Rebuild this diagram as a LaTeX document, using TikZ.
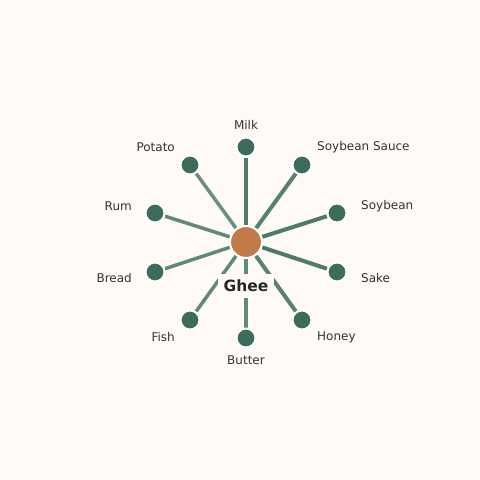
\documentclass[tikz,border=0pt]{standalone}
\usepackage{fontspec}
\setmainfont{DejaVu Sans}
\pgfdeclarelayer{bg}
\pgfdeclarelayer{edges}
\pgfsetlayers{bg,edges,main}
\definecolor{bgc}{HTML}{FFFAF6}
\definecolor{nodec}{HTML}{3D6B5C}
\definecolor{hubc}{HTML}{C17A48}
\definecolor{txtc}{HTML}{333333}
\definecolor{eA}{HTML}{4E7A6B}
\definecolor{eB}{HTML}{56826F}
\definecolor{eC}{HTML}{5F8A7A}
\definecolor{eD}{HTML}{6A9080}
\tikzset{
  leaf/.style={circle, fill=nodec, draw=white, line width=2pt, minimum size=19pt, inner sep=0pt},
  hub/.style={circle, fill=hubc, draw=white, line width=2pt, minimum size=32pt, inner sep=0pt},
  lbl/.style={text=txtc, font=\fontsize{12}{14}\selectfont, inner sep=0pt},
  hublbl/.style={fill=bgc, text=black!85, font=\fontsize{15.5}{18}\selectfont\bfseries, minimum width=56pt, minimum height=24pt, inner sep=0pt}
}
\begin{document}
\begin{tikzpicture}[x=1pt,y=-1pt]
\begin{pgfonlayer}{bg}
\fill[bgc] (0,0) rectangle (480,480);
\end{pgfonlayer}
\useasboundingbox (0,0) rectangle (480,480);
\node[hub] (c) at (246,242) {};
\node[leaf] (milk) at (246,147) {};
\node[leaf] (ssauce) at (302,165) {};
\node[leaf] (soy) at (337,213) {};
\node[leaf] (sake) at (337,272) {};
\node[leaf] (honey) at (302,320) {};
\node[leaf] (butter) at (246,338) {};
\node[leaf] (fish) at (190,320) {};
\node[leaf] (bread) at (155,272) {};
\node[leaf] (rum) at (155,213) {};
\node[leaf] (potato) at (190,165) {};
\begin{pgfonlayer}{edges}
\draw[eA, line width=4.5pt] (c) -- (milk);
\draw[eB, line width=4pt] (c) -- (ssauce);
\draw[eA, line width=4pt] (c) -- (soy);
\draw[eA, line width=4pt] (c) -- (sake);
\draw[eB, line width=4pt] (c) -- (honey);
\draw[eC, line width=3.5pt] (c) -- (butter);
\draw[eC, line width=3.5pt] (c) -- (fish);
\draw[eC, line width=3.5pt] (c) -- (bread);
\draw[eC, line width=3.5pt] (c) -- (rum);
\draw[eD, line width=3.5pt] (c) -- (potato);
\end{pgfonlayer}
\node[hublbl] (ghee) at (246,285.5) {Ghee};
\node[lbl] (tmilk) at (246,124.5) {Milk};
\node[lbl, anchor=west] (tssauce) at (317,147.5) {Soybean Sauce};
\node[lbl, anchor=west] (tsoy) at (361,206.5) {Soybean};
\node[lbl, anchor=west] (tsake) at (361,278.5) {Sake};
\node[lbl, anchor=west] (thoney) at (317,337.5) {Honey};
\node[lbl] (tbutter) at (246,360.5) {Butter};
\node[lbl, anchor=east] (tfish) at (175,337.5) {Fish};
\node[lbl, anchor=east] (tbread) at (132,278.5) {Bread};
\node[lbl, anchor=east] (trum) at (132,206.5) {Rum};
\node[lbl, anchor=east] (tpotato) at (175,147.5) {Potato};
\end{tikzpicture}
\end{document}
